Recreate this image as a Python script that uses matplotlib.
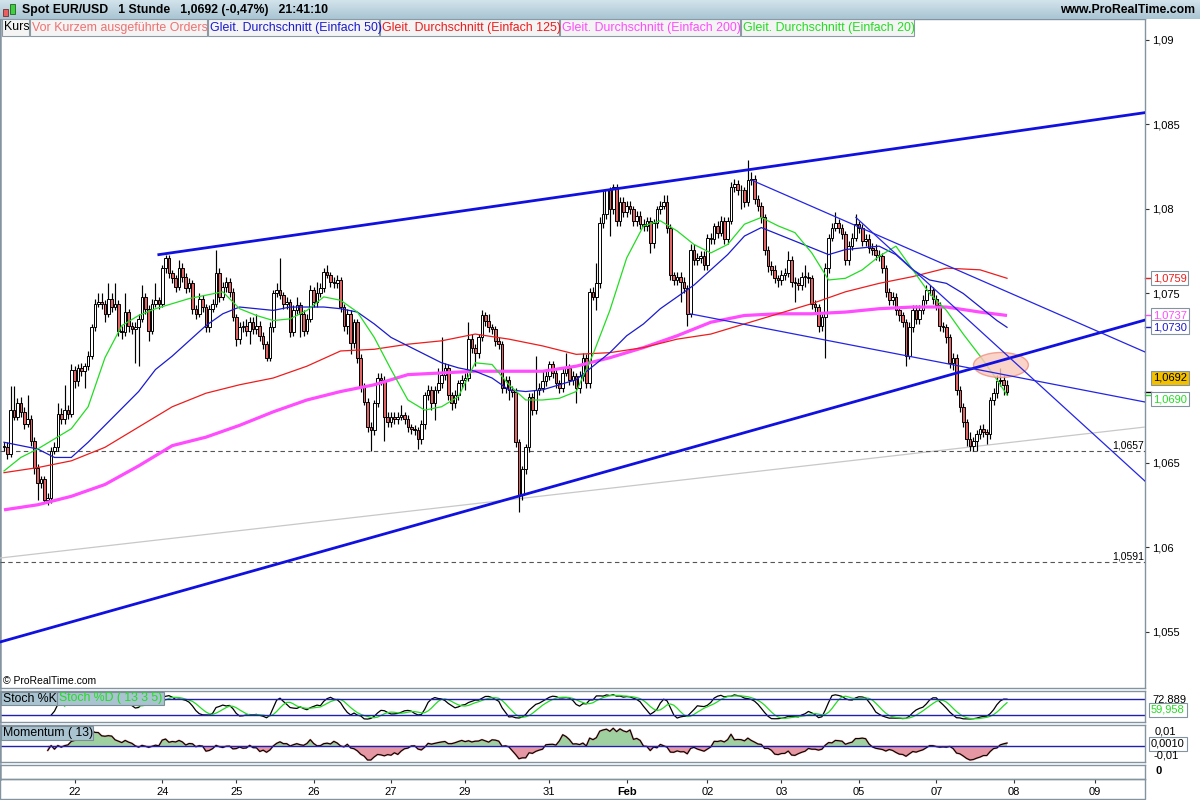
import numpy as np
import pandas as pd
import matplotlib
matplotlib.use("Agg")
import matplotlib.pyplot as plt
import matplotlib.transforms as mtrans
from matplotlib.patches import Ellipse, Rectangle
from matplotlib.colors import LinearSegmentedColormap

plt.rcParams['font.family'] = ['Liberation Sans', 'DejaVu Sans']

# hourly candles, prices in pips above 1.0000 (open = previous close)
first_open = 660
close_pips = [
    659, 655, 681, 677, 685, 680, 673, 676, 663, 647, 638, 640, 628, 629, 657, 659, 679, 676, 681, 679,
    705, 698, 706, 704, 707, 713, 730, 744, 745, 744, 738, 747, 742, 744, 728, 727, 739, 731, 729, 730,
    735, 748, 741, 728, 744, 746, 744, 765, 771,
    762, 759, 754, 765, 760, 753, 756, 741, 738, 747, 742, 730, 741, 744, 762, 748, 754, 757, 751, 736,
    723, 730, 731, 728, 733, 729, 731, 725, 720, 712, 730, 750, 752, 749, 744, 745, 727, 740, 743, 738,
    728, 735, 752, 745, 750, 753, 763, 761, 757, 756, 758, 742, 731, 738, 721, 733, 712, 695, 686, 671,
    669,
    685, 700, 699, 677, 674, 677, 676, 677, 678, 676, 671, 670, 669, 664, 673, 690, 693, 685, 693, 697,
    702, 706, 690, 685, 690, 697, 699, 700, 723, 718, 715, 724, 737, 734, 730, 729, 722, 720, 694, 699,
    693, 692, 662, 631,
    646, 659, 689, 681, 693, 694, 698, 701, 708, 703, 697, 694, 703, 706, 699, 701, 694, 701, 712, 697,
    751, 748, 756, 792, 797, 811,
    800, 813, 793, 804, 798, 802, 800, 793, 796, 791, 790, 793, 780, 792, 800, 802, 804, 789, 761, 758,
    760, 757, 753, 738, 776, 770, 771, 772, 767, 783, 782, 790, 786, 793, 782, 793, 813, 815, 811, 811,
    804, 817, 818, 806, 802, 795, 776, 766, 764, 759, 758, 761, 762, 770, 757, 756, 755, 760, 760, 759,
    744, 742, 731, 736, 765, 783, 789, 792, 789, 785, 770, 778, 783, 791, 789, 781, 782, 777, 776, 773,
    772, 765, 751, 746, 748, 740, 737, 733, 713,
    730, 740, 735, 740, 746, 752, 752, 747, 743, 731, 730, 724, 709, 712, 693, 683, 674, 664, 660, 663,
    667, 670, 668, 667, 687, 691, 698, 699, 696, 692,
]
wick_up = [
    2, 3, 14, 14, 3, 4, 3, 14, 2, 2, 2, 2, 2, 3, 2, 3, 6, 3, 15, 3,
    3, 2, 2, 3, 2, 3, 2, 3, 5, 5, 2, 9, 3, 12, 2, 3, 11, 2, 2, 3,
    3, 7, 2, 2, 3, 10, 2, 2, 2,
    2, 2, 2, 5, 3, 2, 3, 2, 2, 3, 2, 2, 2, 3, 14, 3, 3, 3, 2, 2,
    2, 3, 3, 4, 3, 3, 7, 3, 2, 2, 3, 2, 4, 19, 2, 3, 2, 3, 5, 2,
    2, 3, 3, 2, 7, 3, 2, 4, 2, 3, 3, 2, 2, 3, 2, 2, 2, 2, 2, 2,
    3,
    2, 3, 3, 2, 3, 3, 3, 3, 6, 2, 2, 2, 2, 2, 2, 2, 3, 2, 2, 9,
    22, 3, 2, 2, 3, 2, 3, 3, 10, 3, 2, 2, 3, 2, 4, 2, 2, 2, 2, 2,
    2, 2, 2, 2,
    2, 2, 2, 2, 20, 3, 6, 3, 2, 2, 2, 2, 3, 9, 2, 3, 2, 3, 3, 2,
    2, 3, 12, 3, 14, 1,
    2, 2, 2, 3, 3, 3, 3, 2, 3, 3, 3, 2, 2, 2, 2, 3, 4, 4, 2, 2,
    3, 3, 3, 2, 3, 3, 3, 3, 3, 2, 3, 2, 3, 3, 2, 2, 3, 3, 2, 3,
    2, 12, 4, 2, 2, 2, 2, 2, 3, 3, 2, 3, 3, 5, 2, 3, 3, 3, 7, 3,
    2, 2, 2, 2, 3, 2, 3, 6, 2, 2, 2, 3, 3, 6, 2, 2, 3, 3, 3, 3,
    3, 2, 2, 2, 3, 2, 2, 2, 2,
    3, 3, 3, 3, 3, 3, 3, 2, 2, 2, 2, 2, 2, 3, 2, 2, 2, 2, 4, 2,
    2, 2, 3, 2, 2, 3, 4, 7, 3, 3,
]
wick_dn = [
    2, 3, 2, 2, 2, 3, 3, 2, 3, 4, 10, 3, 2, 3, 3, 2, 2, 3, 3, 3,
    2, 4, 3, 3, 10, 2, 2, 2, 2, 3, 5, 2, 3, 2, 3, 4, 2, 4, 3, 20,
    23, 2, 3, 6, 2, 2, 3, 2, 3,
    3, 3, 3, 2, 3, 3, 2, 3, 3, 2, 3, 3, 3, 2, 2, 3, 2, 3, 3, 2,
    4, 3, 3, 3, 8, 3, 3, 3, 3, 2, 2, 3, 2, 2, 3, 3, 3, 2, 2, 14,
    3, 2, 2, 3, 3, 2, 2, 2, 3, 3, 3, 3, 3, 5, 7, 3, 3, 3, 2, 3,
    12,
    3, 2, 3, 14, 3, 3, 3, 3, 2, 3, 3, 3, 3, 6, 3, 3, 3, 4, 10, 2,
    3, 3, 3, 4, 3, 3, 3, 6, 2, 3, 8, 3, 2, 3, 3, 3, 3, 3, 3, 3,
    6, 3, 3, 10,
    3, 3, 3, 3, 2, 3, 2, 3, 2, 3, 3, 3, 2, 2, 3, 3, 9, 3, 3, 3,
    3, 2, 8, 3, 3, 3,
    16, 3, 3, 3, 3, 3, 3, 3, 3, 3, 3, 3, 6, 3, 3, 3, 2, 3, 3, 3,
    3, 12, 3, 7, 2, 3, 3, 3, 3, 3, 3, 3, 3, 2, 3, 3, 2, 3, 3, 11,
    3, 2, 3, 3, 3, 3, 3, 3, 3, 3, 4, 3, 3, 2, 3, 11, 3, 3, 6, 3,
    3, 3, 4, 3, 24, 3, 2, 2, 3, 3, 3, 3, 2, 2, 3, 3, 3, 3, 3, 3,
    3, 3, 3, 3, 3, 3, 3, 3, 6,
    2, 3, 3, 3, 2, 2, 3, 3, 3, 3, 3, 3, 3, 4, 3, 3, 3, 4, 3, 3,
    6, 3, 3, 6, 3, 3, 3, 3, 6, 2,
]

# moving averages (pips): 20/50 every 5 bars, 125/200 every 10 bars, last = final bar
sma20 = [645, 653, 658, 664, 670, 683, 712, 731, 737, 741, 744, 747, 749, 751, 741, 737, 734, 735, 740, 748,
         746, 739, 724, 705, 687, 681, 683, 689, 709, 708, 696, 687, 687, 688, 692, 714, 740, 771, 790, 793,
         787, 779, 774, 779, 791, 795, 790, 786, 774, 758, 759, 764, 772, 778, 764, 750, 740, 726, 713, 699, 690]
sma50 = [662, 660, 658, 653, 653, 662, 672, 682, 692, 705, 713, 722, 731, 738, 742, 741, 740, 742, 742, 742,
         741, 739, 732, 724, 719, 714, 709, 706, 704, 700, 693, 692, 693, 696, 699, 707, 715, 725, 732, 741,
         748, 755, 764, 773, 784, 789, 785, 781, 777, 773, 776, 777, 778, 773, 764, 758, 756, 750, 742, 734, 730]
sma125 = [644, 647, 651, 659, 671, 683, 691, 696, 700, 707, 716, 717, 720, 722, 726, 723, 719, 714, 715, 718,
          723, 726, 732, 738, 744, 751, 756, 760, 765, 764, 759]
sma200 = [622, 625, 630, 637, 648, 660, 665, 672, 680, 687, 692, 696, 702, 703, 704, 704, 704, 707, 712, 718,
          725, 733, 737, 738, 738, 739, 741, 742, 742, 739, 737]

# drawn objects, (bar, price)
channel_top = [(46, 1.0773), (339, 1.0857)]
channel_bottom = [(-1.2, 1.05438), (339, 1.07343)]
thin_lines = [[(203.8, 1.0738), (339, 1.06858)],
              [(222.2, 1.0817), (339, 1.07154)],
              [(253.1, 1.0795), (339, 1.0639)]]
gray_line = [(-1.2, 1.05935), (339, 1.0671)]
support_levels = [1.0657, 1.0591]
highlight = (296.2, 1.07077, 16.3, 0.00148)

x_tick_bars = [21, 47, 69, 92, 115, 137, 162, 185, 209, 231, 254, 277, 300, 324]
x_tick_labels = ['22', '24', '25', '26', '27', '29', '31', 'Feb', '02', '03', '05', '07', '08', '09']
y_ticks = [1.055, 1.06, 1.065, 1.075, 1.08, 1.085, 1.09]


def fmt(v, d=4):
    return f"{v:.{d}f}".replace('.', ',')


c = 1 + np.array(close_pips) / 10000.0
o = np.r_[1 + first_open / 10000.0, c[:-1]]
hi = np.maximum(o, c) + np.array(wick_up) / 10000.0
lo = np.minimum(o, c) - np.array(wick_dn) / 10000.0
n = len(c)
x = np.arange(n)
pos_fast = np.r_[np.arange(0, n - 1, 5), n - 1]
pos_slow = np.r_[np.arange(0, n - 1, 10), n - 1]
ma20 = 1 + np.array(sma20) / 10000.0
ma50 = 1 + np.array(sma50) / 10000.0
ma125 = 1 + np.array(sma125) / 10000.0
ma200 = 1 + np.array(sma200) / 10000.0

# indicators from the candles
hh = pd.Series(hi).rolling(13).max()
ll = pd.Series(lo).rolling(13).min()
k_raw = 100 * (pd.Series(c) - ll) / (hh - ll)
stoch_k = k_raw.rolling(3).mean().values
stoch_d = pd.Series(stoch_k).rolling(5).mean().values
mom = (pd.Series(c) - pd.Series(c).shift(13)).values

W, H = 1200.0, 800.0


def box(x0, y0, x1, y1):
    return [x0 / W, 1 - y1 / H, (x1 - x0) / W, (y1 - y0) / H]


fig = plt.figure(figsize=(12, 8), dpi=100)
spine_col = '#8394a0'

ax = fig.add_axes(box(0, 19, 1145, 688))
ax_st = fig.add_axes(box(0, 691, 1145, 722), sharex=ax)
ax_mo = fig.add_axes(box(0, 725, 1145, 762), sharex=ax)
ax_vo = fig.add_axes(box(0, 765, 1145, 779), sharex=ax)

for a in (ax, ax_st, ax_mo, ax_vo):
    for s in a.spines.values():
        s.set_color(spine_col)
        s.set_linewidth(1)
    a.spines['left'].set_linewidth(1.8)
    a.tick_params(axis='x', bottom=False, labelbottom=False)
    a.yaxis.tick_right()
    a.tick_params(axis='y', length=3, width=0.8, color='#333333', labelsize=8, pad=2)

# candles
ax.vlines(x, lo, hi, color='black', lw=0.85, zorder=4)
body = np.abs(c - o)
body[body < 0.00002] = 0.00002
ax.bar(x, body, bottom=np.minimum(o, c), width=0.78,
       color=np.where(c >= o, 'white', '#e06464'), edgecolor='black', linewidth=0.7, zorder=5)

# moving averages
ax.plot(pos_slow, ma200, color='#ff4cff', lw=2.3, zorder=6, solid_capstyle='butt')
ax.plot(pos_slow, ma125, color='#ee1c1c', lw=0.9, zorder=6)
ax.plot(pos_fast, ma50, color='#1a1ad0', lw=0.9, zorder=6)
ax.plot(pos_fast, ma20, color='#22dd22', lw=0.9, zorder=6)

# drawn lines
for seg in (channel_top, channel_bottom):
    ax.plot([p[0] for p in seg], [p[1] for p in seg], color='#1010e0', lw=2.0, zorder=7)
for seg in thin_lines:
    ax.plot([p[0] for p in seg], [p[1] for p in seg], color='#2424e6', lw=0.9, zorder=7)
ax.plot([p[0] for p in gray_line], [p[1] for p in gray_line], color='#c8c8c8', lw=0.9, zorder=3)
blend = mtrans.blended_transform_factory(ax.transAxes, ax.transData)
for lev in support_levels:
    ax.axhline(lev, color='#555555', lw=0.8, ls=(0, (4, 3)), zorder=3)
    ax.text(0.971, lev + 0.00004, fmt(lev), transform=blend, fontsize=7.5, va='bottom', ha='left')
ex, ey, ew, eh = highlight
ax.add_patch(Ellipse((ex, ey), ew, eh, facecolor='#f9c9bc', edgecolor='#ef8f7e', lw=1.0, alpha=0.8, zorder=6.5))

ax.set_xlim(-1.19, 339.0)
ax.set_ylim(1.05166, 1.09124)
ax.set_yticks(y_ticks)
ax.set_yticklabels([fmt(v, 3).rstrip('0') for v in y_ticks])

# right-side value boxes
labels = [(ma125[-1], '#ee1c1c', 'white', 0), (ma200[-1], '#ff4cff', 'white', 0), (ma50[-1], '#1a1ad0', 'white', 0),
          (c[-1], 'black', '#f3c000', 10), (ma20[-1], '#22dd22', 'white', -3)]
for val, col, fc, dy in labels:
    ax.plot([1.0, 1.005], [val, val], transform=blend, color=col, lw=1, clip_on=False)
    ax.annotate(fmt(val), xy=(1, val), xycoords=blend, xytext=(5.5, dy), textcoords='offset points',
                va='center', ha='left', fontsize=8, color=col, annotation_clip=False,
                bbox=dict(boxstyle='square,pad=0.18', fc=fc, ec='#8393a0', lw=0.8))

# stochastic
ax_st.plot(x, stoch_k, color='black', lw=0.9)
ax_st.plot(x, stoch_d, color='#22dd22', lw=0.9)
ax_st.axhline(80, color='#2020b0', lw=1)
ax_st.axhline(20, color='#2020b0', lw=1)
ax_st.set_ylim(-8, 110)
ax_st.set_yticks([])

# momentum
ax_mo.fill_between(x, mom, 0, where=mom >= 0, interpolate=True, color='#9fd09f', lw=0)
ax_mo.fill_between(x, mom, 0, where=mom < 0, interpolate=True, color='#e597a3', lw=0)
ax_mo.plot(x, mom, color='#e06464', lw=1.4, alpha=0.6)
ax_mo.plot(x, mom, color='black', lw=0.8)
ax_mo.axhline(0, color='#2020b0', lw=1)
ax_mo.set_ylim(-0.0105, 0.0135)
ax_mo.set_yticks([])

ax_vo.set_ylim(-1, 1)
ax_vo.set_yticks([])
ax_vo.set_xticks(x_tick_bars)
ax_vo.set_xticklabels(x_tick_labels)
ax_vo.tick_params(axis='x', bottom=True, labelbottom=True, length=3, color='#333333', labelsize=8, pad=3)
for t in ax_vo.get_xticklabels():
    if t.get_text() == 'Feb':
        t.set_fontweight('bold')

# header strip
ax_h = fig.add_axes(box(0, 0, 1200, 19))
grad = np.linspace(0, 1, 20).reshape(-1, 1)
ax_h.imshow(grad, aspect='auto', cmap=LinearSegmentedColormap.from_list('h', ['#d2e3eb', '#a9c5d3']))
ax_h.set_axis_off()
fig.text(22 / W, 1 - 10 / H, "Spot EUR/USD   1 Stunde   1,0692 (-0,47%)   21:41:10",
         fontsize=8.8, fontweight='bold', va='center')
fig.text(1195 / W, 1 - 10 / H, "www.ProRealTime.com", fontsize=8.8, fontweight='bold', va='center', ha='right')
fig.add_artist(Rectangle((3 / W, 1 - 16 / H), 5 / W, 7 / H, transform=fig.transFigure,
                         fc='#e86060', ec='#703030', lw=0.6))
fig.add_artist(Rectangle((10 / W, 1 - 14 / H), 5 / W, 10 / H, transform=fig.transFigure,
                         fc='#3ed03e', ec='#206020', lw=0.6))

# legend row
legend_items = [("Kurs", 'black', 2, 29), ("Vor Kurzem ausgeführte Orders", '#f07070', 30, 207),
                ("Gleit. Durchschnitt (Einfach 50)", '#1a1ad0', 208, 379),
                ("Gleit. Durchschnitt (Einfach 125)", '#ee1c1c', 380, 559),
                ("Gleit. Durchschnitt (Einfach 200)", '#ff4cff', 560, 740),
                ("Gleit. Durchschnitt (Einfach 20)", '#22dd22', 741, 914)]
for txt, col, x0, x1 in legend_items:
    fig.add_artist(Rectangle((x0 / W, 1 - 36 / H), (x1 - x0) / W, 17 / H, transform=fig.transFigure,
                             fc='#f4f4f4', ec='#8b9aa5', lw=0.8))
    fig.text((x0 + 2) / W, 1 - 27.5 / H, txt, color=col, fontsize=8.9, va='center')

fig.text(3 / W, 1 - 681 / H, "© ProRealTime.com", fontsize=7.5, va='center')

# indicator panel tags
for txt, col, x0, x1, y0, y1 in [("Stoch %K", 'black', 1, 57, 692, 705),
                                 ("Stoch %D ( 13 3 5)", '#22dd22', 57, 164, 692, 705),
                                 ("Momentum ( 13)", 'black', 1, 93, 726, 740)]:
    fig.add_artist(Rectangle((x0 / W, 1 - y1 / H), (x1 - x0) / W, (y1 - y0) / H, transform=fig.transFigure,
                             fc='#a9c3d0', ec='#7b8e99', lw=0.8))
    fig.text((x0 + 2) / W, 1 - (y0 + y1) / 2 / H, txt, color=col, fontsize=8.8, va='center')

# sub-panel right labels
fig.text(1152 / W, 1 - 699 / H, "72,889", fontsize=8, va='center')
fig.text(1151 / W, 1 - 710 / H, "59,958", fontsize=8, va='center', color='#22dd22',
         bbox=dict(boxstyle='square,pad=0.18', fc='white', ec='#8393a0', lw=0.8))
fig.text(1155 / W, 1 - 732 / H, "0,01", fontsize=8, va='center')
fig.text(1151 / W, 1 - 744 / H, "0,0010", fontsize=8, va='center',
         bbox=dict(boxstyle='square,pad=0.18', fc='white', ec='#8393a0', lw=0.8))
fig.text(1153 / W, 1 - 755 / H, "-0,01", fontsize=8, va='center')
fig.text(1155 / W, 1 - 771 / H, "0", fontsize=8, fontweight='bold', va='center')
fig.add_artist(Rectangle((0, 1 - 799 / H), 1145 / W, 20 / H, transform=fig.transFigure,
                         fc='none', ec=spine_col, lw=1))

fig.savefig("out.png", dpi=100)
